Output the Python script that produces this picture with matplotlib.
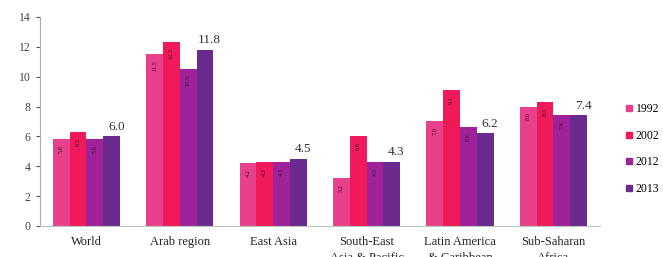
import numpy as np
import matplotlib.pyplot as plt
from matplotlib.lines import Line2D

plt.rcParams["font.family"] = ["Liberation Serif", "DejaVu Serif"]

regions = ["World", "Arab region", "East Asia", "South-East\nAsia & Pacific",
           "Latin America\n& Caribbean", "Sub-Saharan\nAfrica"]
years = ["1992", "2002", "2012", "2013"]
v1992 = [5.8, 11.5, 4.2, 3.2, 7.0, 8.0]
v2002 = [6.3, 12.3, 4.3, 6.0, 9.1, 8.3]
v2012 = [5.8, 10.5, 4.3, 4.3, 6.6, 7.4]
v2013 = [6.0, 11.8, 4.5, 4.3, 6.2, 7.4]
series = [v1992, v2002, v2012, v2013]
top_labels = ["6.0", "11.8", "4.5", "4.3", "6.2", "7.4"]

COLORS = ["#E8408A", "#F01A5A", "#A0229A", "#6A2A8E"]

fig = plt.figure(figsize=(6.63, 2.57), dpi=100, facecolor="white")
ax = fig.add_axes([0.060, 0.121, 0.845, 0.813])

x = np.arange(len(regions))
w = 0.18
for i, vals in enumerate(series):
    pos = x + (i - 1.5) * w
    ax.bar(pos, vals, width=w, color=COLORS[i], zorder=2)
    if i < 3:
        for p, v in zip(pos, vals):
            ax.text(p, v - 0.4, f"{v:.1f}", rotation=90, ha="center", va="top",
                    fontsize=4.5, color="#3a1030", zorder=3)

for xi, v, lab in zip(x + 1.5 * w, v2013, top_labels):
    ax.text(xi + 0.05, v + 0.25, lab, ha="center", va="bottom",
            fontsize=9.5, color="#333333")

ax.set_xlim(-0.5, 5.5)
ax.set_ylim(0, 14)
ax.set_yticks(range(0, 15, 2))
ax.set_xticks(x)
ax.set_xticklabels(regions, fontsize=9, color="#222222", linespacing=1.5)
ax.tick_params(axis="x", length=0, pad=7)
ax.tick_params(axis="y", labelsize=8.5, colors="#555555", length=3, labelcolor="#444444")
for s in ["top", "right"]:
    ax.spines[s].set_visible(False)
ax.spines["left"].set_color("#aaaaaa")
ax.spines["bottom"].set_color("#b8c8b8")

handles = [Line2D([0], [0], marker="s", linestyle="", markersize=5,
                  markerfacecolor=c, markeredgecolor=c, label=y)
           for c, y in zip(COLORS, years)]
fig.legend(handles=handles, loc="center left", bbox_to_anchor=(0.925, 0.42),
           frameon=False, fontsize=8.5, handletextpad=0.2, labelspacing=1.25,
           handlelength=0.8)

fig.savefig("out.png", dpi=100, facecolor="white")
